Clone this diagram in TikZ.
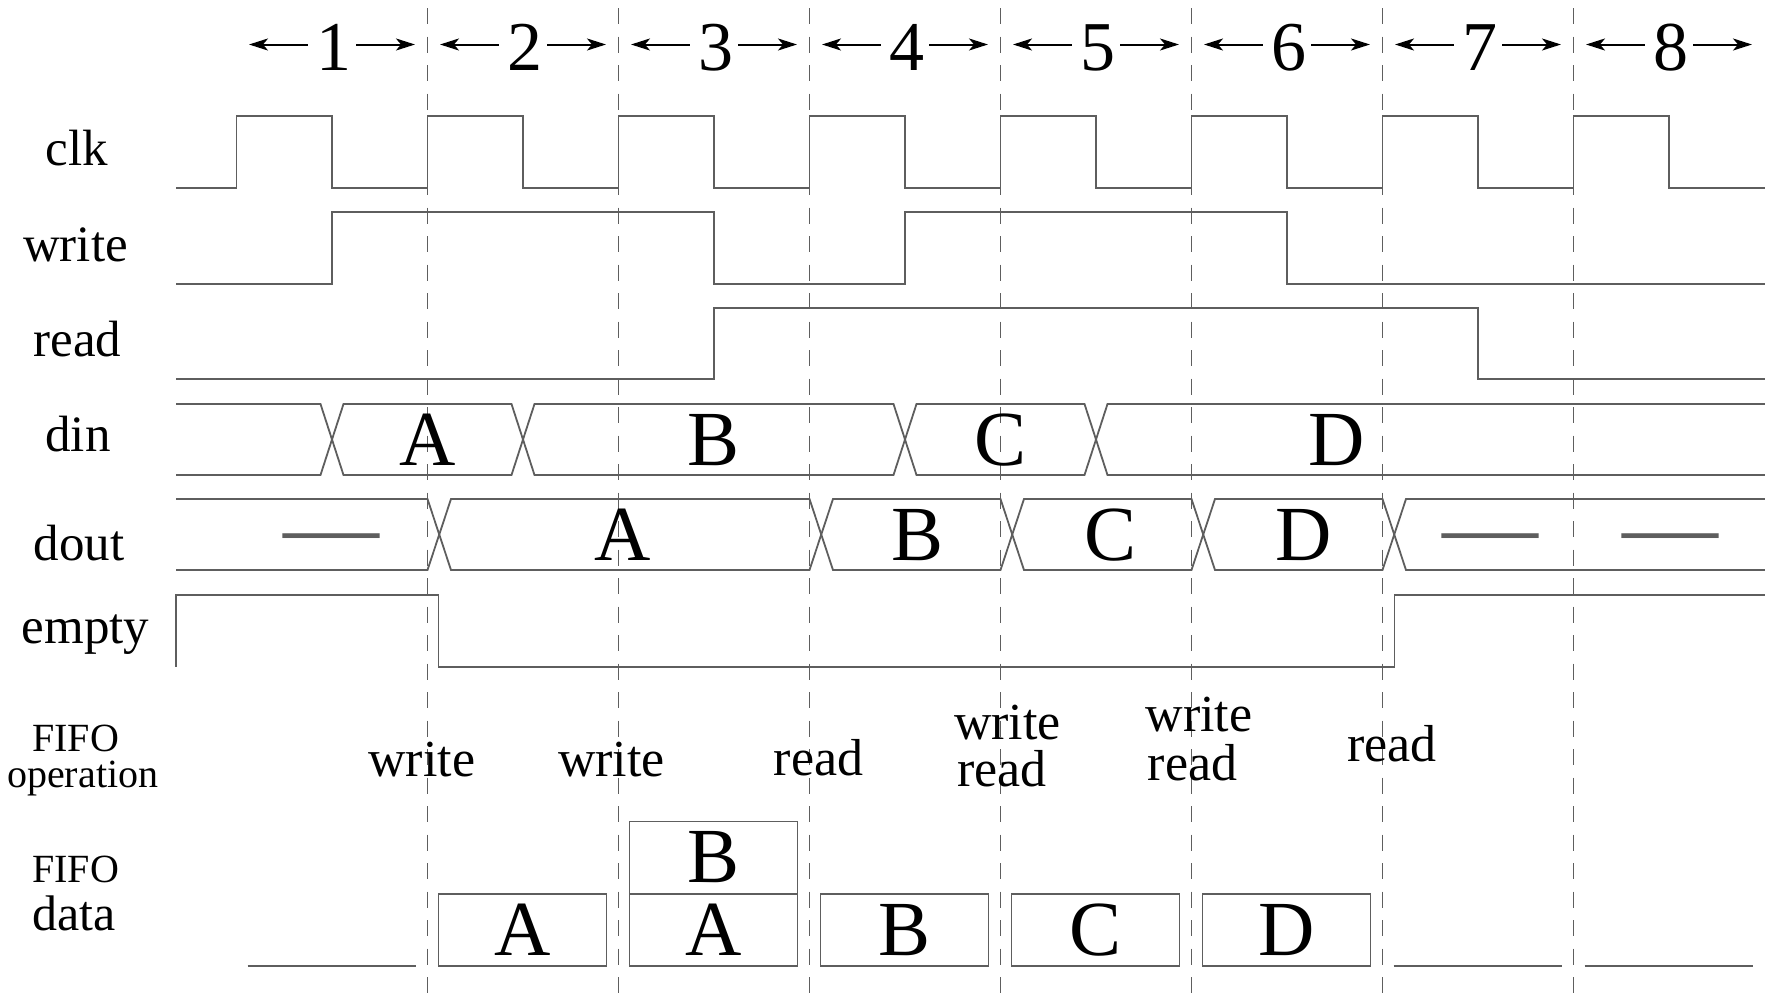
\documentclass[tikz,border=0pt]{standalone}
\usepackage{fontspec}
\setmainfont{Liberation Serif}
\usetikzlibrary{arrows.meta}
\definecolor{ln}{HTML}{5E5E5E}
\begin{document}
\begin{tikzpicture}[x=1pt,y=-1pt,
  sigline/.style={draw=ln,line width=1.8pt,line join=miter},
  vguide/.style={draw=ln,line width=1.6pt,dash pattern=on 16pt off 12.5pt},
  tarrow/.style={draw=black,line width=2pt,-{Stealth[length=19pt,width=12pt,inset=5pt]}},
  siglabel/.style={anchor=base,inner sep=0pt,font=\fontsize{51}{51}\selectfont},
  smalllabel/.style={anchor=base,inner sep=0pt,font=\fontsize{40}{40}\selectfont},
  bigletter/.style={anchor=base,inner sep=0pt,font=\fontsize{78}{78}\selectfont},
  numlabel/.style={anchor=base,inner sep=0pt,font=\fontsize{70}{70}\selectfont},
  oplabel/.style={anchor=base,inner sep=0pt,font=\fontsize{52}{52}\selectfont},
  dashlabel/.style={anchor=base,inner sep=0pt,text=ln,font=\fontsize{96}{96}\selectfont},
  cellbox/.style={draw=ln,line width=1.8pt,minimum width=168pt,minimum height=72pt,inner sep=0pt,font=\fontsize{78}{78}\selectfont},
]
\useasboundingbox (0,0) rectangle (1765,996);

% dashed cycle boundaries
\foreach \k in {1,...,7} {
  \coordinate (gt\k) at ({236.5+191*\k},8);
  \coordinate (gb\k) at ({236.5+191*\k},996);
  \draw[vguide] (gt\k) -- (gb\k);
}

% cycle numbers with arrows
\foreach \k in {1,...,8} {
  \node[numlabel] (n\k) at ({236.5+191*(\k-1)+97.5},70.7) {\k};
  \coordinate (la\k) at ({236.5+191*(\k-1)+71},44.5);
  \coordinate (lt\k) at ({236.5+191*(\k-1)+12.5},44.5);
  \coordinate (ra\k) at ({236.5+191*\k-71.5},44.5);
  \coordinate (rt\k) at ({236.5+191*\k-12.5},44.5);
  \draw[tarrow] (la\k) -- (lt\k);
  \draw[tarrow] (ra\k) -- (rt\k);
}

% signal labels
\node[siglabel] (lclk) at (77,165.7) {clk};
\node[siglabel] (lwrite) at (75.5,261.7) {write};
\node[siglabel] (lread) at (77.5,356.7) {read};
\node[siglabel] (ldin) at (78,451.7) {din};
\node[siglabel] (ldout) at (79,560) {dout};
\node[siglabel] (lempty) at (85.5,643.3) {empty};
\node[smalllabel] (lop1) at (75.6,751.7) {FIFO};
\node[smalllabel] (lop2) at (82.7,787.3) {operation};
\node[smalllabel] (ldat1) at (75.6,882.7) {FIFO};
\node[siglabel,font=\fontsize{50}{50}\selectfont] (ldat2) at (74,930) {data};

% clk
\draw[sigline] (176,188.3) foreach \k in {0,...,7} {
  -- ({236.5+191*\k},188.3) -- ({236.5+191*\k},115.7)
  -- ({332+191*\k},115.7) -- ({332+191*\k},188.3) } -- (1765,188.3);

% write
\draw[sigline] (176,284.3) -- (332,284.3) -- (332,212.3) -- (714,212.3) -- (714,284.3)
  -- (905,284.3) -- (905,212.3) -- (1287,212.3) -- (1287,284.3) -- (1765,284.3);

% read
\draw[sigline] (176,379) -- (714,379) -- (714,308.3) -- (1478,308.3) -- (1478,379) -- (1765,379);

% din bus
\draw[sigline] (176,404) -- (320.5,404) -- (332,439.5) -- (320.5,475) -- (176,475);
\foreach \a/\b in {332/523,523/905,905/1096} {
  \draw[sigline] (\a,439.5) -- ({\a+11.5},404) -- ({\b-11.5},404) -- (\b,439.5)
    -- ({\b-11.5},475) -- ({\a+11.5},475) -- cycle;
}
\draw[sigline] (1765,404) -- (1107.5,404) -- (1096,439.5) -- (1107.5,475) -- (1765,475);
\node[bigletter] (dinA) at (428,465) {A};
\node[bigletter] (dinB) at (714,465) {B};
\node[bigletter] (dinC) at (1000.7,465) {C};
\node[bigletter] (dinD) at (1337,465) {D};

% dout bus
\draw[sigline] (176,499) -- (427.5,499) -- (439.25,534.5) -- (427.5,570) -- (176,570);
\foreach \a/\b in {439.25/821.25,821.25/1012.25,1012.25/1203.25,1203.25/1394.25} {
  \draw[sigline] (\a,534.5) -- ({\a+11.75},499) -- ({\b-11.75},499) -- (\b,534.5)
    -- ({\b-11.75},570) -- ({\a+11.75},570) -- cycle;
}
\draw[sigline] (1765,499) -- (1406,499) -- (1394.25,534.5) -- (1406,570) -- (1765,570);
\node[dashlabel] (doutN1) at (331,558) {—};
\node[bigletter] (doutA) at (622.5,560.5) {A};
\node[bigletter] (doutB) at (917.5,560.5) {B};
\node[bigletter] (doutC) at (1111,560.5) {C};
\node[bigletter] (doutD) at (1303.5,560.5) {D};
\node[dashlabel] (doutN2) at (1490,558) {—};
\node[dashlabel] (doutN3) at (1670,558) {—};

% empty
\draw[sigline] (176,666.7) -- (176,595) -- (438.5,595) -- (438.5,666.7)
  -- (1394.5,666.7) -- (1394.5,595) -- (1765,595);

% FIFO operations
\node[oplabel] (op1) at (421.7,776.7) {write};
\node[oplabel] (op2) at (611.5,776.7) {write};
\node[oplabel] (op3) at (818.5,775) {read};
\node[oplabel] (op4a) at (1007.5,739.3) {write};
\node[oplabel] (op4b) at (1002,786) {read};
\node[oplabel] (op5a) at (1199,731.7) {write};
\node[oplabel] (op5b) at (1192.5,780) {read};
\node[oplabel] (op6) at (1392,761.7) {read};

% FIFO data
\node[cellbox] (c2) at (522.5,930) {A};
\node[cellbox] (c3t) at (713.5,857.5) {B};
\node[cellbox] (c3b) at (713.5,930) {A};
\node[cellbox] (c4) at (904.5,930) {B};
\node[cellbox] (c5) at (1095.5,930) {C};
\node[cellbox] (c6) at (1286.5,930) {D};
\coordinate (e1a) at (247.5,966); \coordinate (e1b) at (415.5,966);
\coordinate (e7a) at (1393.5,966); \coordinate (e7b) at (1561.5,966);
\coordinate (e8a) at (1584.5,966); \coordinate (e8b) at (1752.5,966);
\draw[sigline] (e1a) -- (e1b);
\draw[sigline] (e7a) -- (e7b);
\draw[sigline] (e8a) -- (e8b);
\end{tikzpicture}
\end{document}
